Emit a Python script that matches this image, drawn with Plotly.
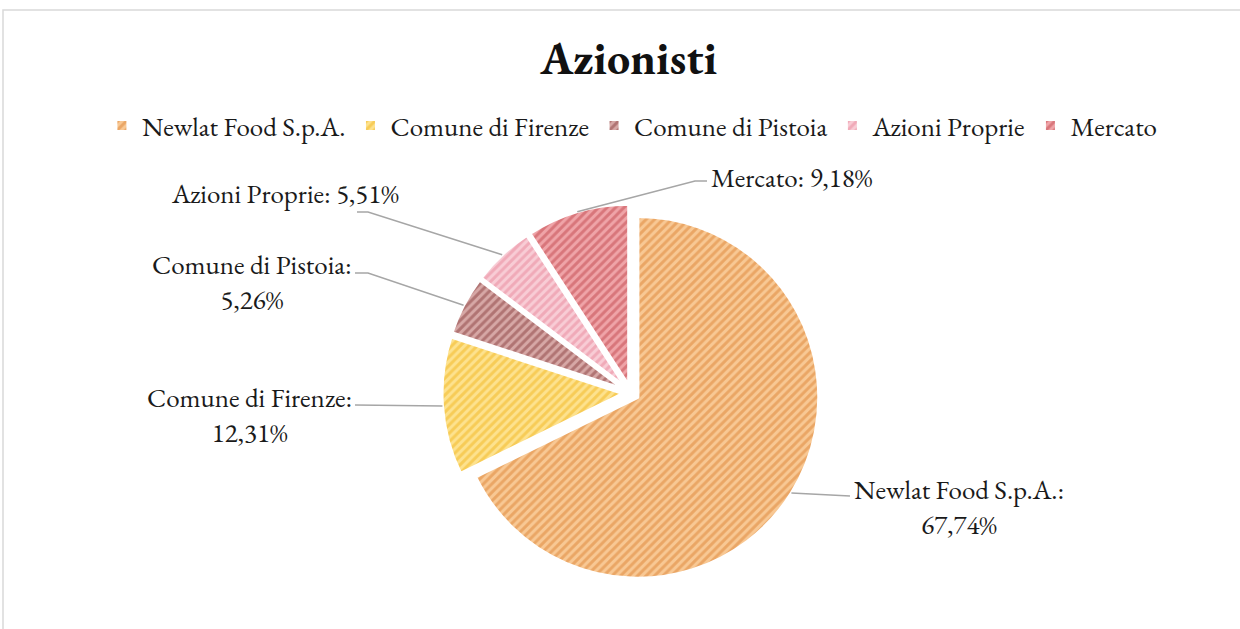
import math
import plotly.graph_objects as go

# ---- data ----
categories = ["Newlat Food S.p.A.", "Comune di Firenze", "Comune di Pistoia", "Azioni Proprie", "Mercato"]
values = [67.74, 12.31, 5.26, 5.51, 9.18]
label_texts = ["Newlat Food S.p.A.:<br>67,74%", "Comune di Firenze:<br>12,31%",
               "Comune di Pistoia:<br>5,26%", "Azioni Proprie: 5,51%", "Mercato: 9,18%"]
title_text = "Azionisti"

# ---- style ----
W, H = 1240, 629
FONT = "EB Garamond, Garamond, Liberation Serif, serif"
legend_colors = ["#E8822F", "#FFC000", "#8B3A3A", "#F09AAA", "#C0404A"]
fg_colors = ["#DC8436", "#F2B620", "#8A4040", "#E8889C", "#C2484E"]
bg_colors = ["#F8C894", "#FDE28E", "#D6A8A6", "#F8CCD5", "#EFA4A8"]
PULL = 0.045
CX, CY = 631, 393          # pie centre (px)
R_OUT = 189                # radius incl. pull (px)

# label layout (px): centre of text, leader start, optional bend
label_pos = [(959, 507), (250, 415), (252, 282), (285, 193), (792, 177)]
leader_start = [(850, 496), (355, 405), (355, 273), (357, 212), (707, 181)]
leader_bend = [None, None, (368, 273), (368, 212), (695, 181)]

def px(x):
    return x / W

def py(y):
    return 1 - y / H

fig = go.Figure()
fig.add_trace(go.Pie(
    labels=categories, values=values, sort=False, direction="clockwise", rotation=0,
    pull=[PULL] * len(values), textinfo="none",
    marker=dict(colors=legend_colors,
                line=dict(color="white", width=3),
                pattern=dict(shape="/", fgcolor=fg_colors, bgcolor=bg_colors,
                             size=6, solidity=0.5, fillmode="overlay")),
    domain=dict(x=[px(CX - R_OUT), px(CX + R_OUT)], y=[py(CY + R_OUT), py(CY - R_OUT)]),
    hoverinfo="label+percent",
))

# anchors on slice edges, computed from the values
total = sum(values)
cum = 0
shapes = []
annotations = []
for i, v in enumerate(values):
    mid = (cum + v / 2) / total * 2 * math.pi
    cum += v
    dx, dy = math.sin(mid), -math.cos(mid)
    ax, ay = CX + R_OUT * dx, CY + R_OUT * dy
    sx, sy = leader_start[i]
    path = f"M {px(sx)} {py(sy)}"
    if leader_bend[i] is not None:
        bx, by = leader_bend[i]
        path += f" L {px(bx)} {py(by)}"
    path += f" L {px(ax)} {py(ay)}"
    shapes.append(dict(type="path", xref="paper", yref="paper", path=path,
                       line=dict(color="#A6A6A6", width=1.5)))
    lx, ly = label_pos[i]
    annotations.append(dict(x=px(lx), y=py(ly), xref="paper", yref="paper",
                            text=label_texts[i], showarrow=False, xanchor="center",
                            yanchor="middle", align="center",
                            font=dict(family=FONT, size=27, color="#1a1a1a")))

# chart frame
shapes.append(dict(type="rect", xref="paper", yref="paper", x0=px(3), x1=1.05,
                   y0=-0.05, y1=py(10), line=dict(color="#D9D9D9", width=1.5)))

fig.update_layout(
    width=W, height=H, margin=dict(l=0, r=0, t=0, b=0),
    paper_bgcolor="white", plot_bgcolor="white",
    title=dict(text=f"<b>{title_text}</b>", x=0.507, xanchor="center", y=py(58),
               yanchor="middle", font=dict(family=FONT, size=46, color="#111111")),
    legend=dict(orientation="h", x=0.51, xanchor="center", y=py(126), yanchor="middle",
                font=dict(family=FONT, size=27, color="#1a1a1a"), itemclick=False),
    shapes=shapes, annotations=annotations,
)
fig.write_html("out.html")
